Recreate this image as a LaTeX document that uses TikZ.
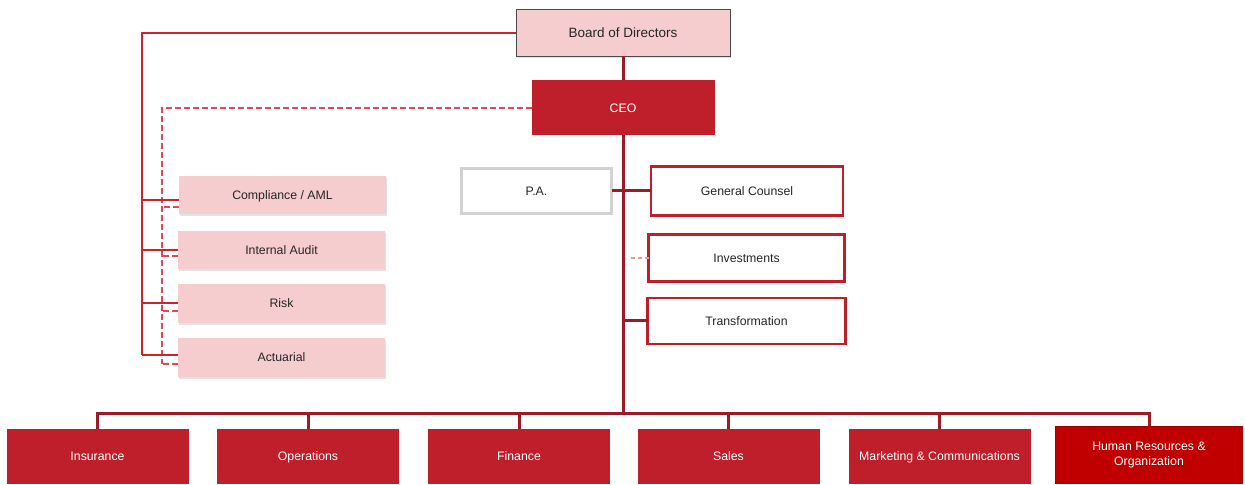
\documentclass[tikz,border=0pt]{standalone}
\usepackage{fontspec}
\setmainfont{Liberation Sans}
\usetikzlibrary{shadows}
\definecolor{boxred}{RGB}{190,31,42}
\definecolor{hrred}{RGB}{192,0,0}
\definecolor{hrborder}{RGB}{165,0,0}
\definecolor{spinered}{RGB}{155,27,38}
\definecolor{linkred}{RGB}{205,35,45}
\definecolor{dashred}{RGB}{220,75,85}
\definecolor{dashpink}{RGB}{240,150,155}
\definecolor{boxpink}{RGB}{245,205,207}
\definecolor{textgray}{RGB}{38,38,38}
\definecolor{pagray}{RGB}{210,210,210}
\begin{document}
\begin{tikzpicture}[line join=miter,
  every node/.style={inner sep=0pt,outer sep=0pt,font=\fontsize{12.3bp}{15bp}\selectfont},
  oneline/.style={text height=8.8bp,text depth=0bp},
  pinkbox/.style={oneline,fill=boxpink,text=textgray,minimum width=207bp,minimum height=38bp,
    drop shadow={shadow xshift=1.2bp,shadow yshift=-2bp,opacity=0.22}},
  redbox/.style={oneline,fill=boxred,text=white,minimum width=182bp,minimum height=55bp},
  outlinebox/.style={oneline,draw=boxred,line width=2.5bp,fill=white,text=textgray},
  trunk/.style={draw=spinered,line width=3bp},
  solidlink/.style={draw=linkred,line width=1.4bp},
  dashlink/.style={draw=dashred,line width=1.4bp,dash pattern=on 6bp off 3bp},
  dashpinklink/.style={draw=dashpink,line width=1.3bp,dash pattern=on 4bp off 3bp},
]
\useasboundingbox (0bp,0bp) rectangle (1245bp,485bp);
%%
\node (node_board) at (623bp,452bp) [text height=9.7bp,text depth=0bp,draw=black!70,line width=1bp,fill=boxpink,text=textgray,minimum width=214bp,minimum height=47bp,drop shadow={shadow xshift=1.2bp,shadow yshift=-2bp,opacity=0.22},font=\fontsize{13.5bp}{15bp}\selectfont] {Board of Directors};
  \node (node_ceo) at (623bp,377bp) [oneline,fill=boxred,text=white,minimum width=183bp,minimum height=55bp] {CEO};
%
  \node (node_comp) at (282.5bp,289.5bp) [pinkbox] {Compliance / AML};
  \node (node_audit) at (281.5bp,235bp) [pinkbox] {Internal Audit};
  \node (node_risk) at (281.5bp,181.5bp) [pinkbox,minimum height=39bp] {Risk};
  \node (node_act) at (281.5bp,127.5bp) [pinkbox,minimum height=39bp] {Actuarial};
%
  \node (node_pa) at (536.5bp,294bp) [oneline,draw=pagray,line width=2.5bp,fill=white,text=textgray,minimum width=150bp,minimum height=45bp] {P.A.};
  \node (node_gc) at (747bp,294bp) [outlinebox,minimum width=192bp,minimum height=49bp] {General Counsel};
  \node (node_inv) at (746.5bp,227bp) [outlinebox,minimum width=196bp,minimum height=47bp] {Investments};
  \node (node_trans) at (746.5bp,164bp) [outlinebox,minimum width=198bp,minimum height=46bp] {Transformation};
%
  \node (node_ins) at (97.5bp,28.5bp) [redbox] {Insurance};
  \node (node_ops) at (308bp,28.5bp) [redbox] {Operations};
  \node (node_fin) at (519bp,28.5bp) [redbox] {Finance};
  \node (node_sales) at (728.5bp,28.5bp) [redbox] {Sales};
  \node (node_mkt) at (939.5bp,28.5bp) [redbox] {Marketing \& Communications};
  \node (node_hr) at (1149bp,30bp) [fill=hrred,draw=hrborder,line width=1.5bp,text=white,minimum width=187bp,minimum height=57bp,align=center] {Human Resources \&\\Organization};
%%
  \coordinate (bus_y) at (0bp,71bp);
  \coordinate (rail_solid) at (142bp,130bp);
  \coordinate (rail_dash) at (162bp,121bp);
%
  \draw [trunk] (node_board.south) -- (node_ceo.north);
  \draw [trunk] (node_ceo.south) -- (node_ceo.south |- bus_y);
  \draw [trunk] (node_ins.north) |- (node_ceo.south |- bus_y) -| (node_hr.north);
  \draw [trunk] (node_ops.north) -- (node_ops.north |- bus_y);
  \draw [trunk] (node_fin.north) -- (node_fin.north |- bus_y);
  \draw [trunk] (node_sales.north) -- (node_sales.north |- bus_y);
  \draw [trunk] (node_mkt.north) -- (node_mkt.north |- bus_y);
%
  \draw [trunk] (node_pa.east) -- (node_pa.east -| node_ceo.south);
  \draw [trunk] (node_gc.west) -- (node_gc.west -| node_ceo.south);
  \draw [trunk] (node_trans.west) -- (node_trans.west -| node_ceo.south);
  \draw [dashpinklink] (node_inv.west) -- ([xshift=5bp]node_ceo.south |- node_inv.west);
%
  \draw [solidlink] (node_board.west) -| (rail_solid);
  \draw [dashlink] (node_ceo.west) -| (rail_dash);
  \coordinate (comp_s) at ([yshift=-4.5bp]node_comp.west);
  \coordinate (comp_d) at ([yshift=-11.5bp]node_comp.west);
  \coordinate (audit_s) at ([yshift=0bp]node_audit.west);
  \coordinate (audit_d) at ([yshift=-6bp]node_audit.west);
  \coordinate (risk_s) at ([yshift=0.5bp]node_risk.west);
  \coordinate (risk_d) at ([yshift=-7.5bp]node_risk.west);
  \coordinate (act_s) at ([yshift=2.5bp]node_act.west);
  \coordinate (act_d) at ([yshift=-6.5bp]node_act.west);
  \draw [solidlink] (comp_s) -- (comp_s -| rail_solid);
  \draw [dashlink] (comp_d) -- (comp_d -| rail_dash);
  \draw [solidlink] (audit_s) -- (audit_s -| rail_solid);
  \draw [dashlink] (audit_d) -- (audit_d -| rail_dash);
  \draw [solidlink] (risk_s) -- (risk_s -| rail_solid);
  \draw [dashlink] (risk_d) -- (risk_d -| rail_dash);
  \draw [solidlink] (act_s) -- (act_s -| rail_solid);
  \draw [dashlink] (act_d) -- (act_d -| rail_dash);
%
\end{tikzpicture}
\end{document}
